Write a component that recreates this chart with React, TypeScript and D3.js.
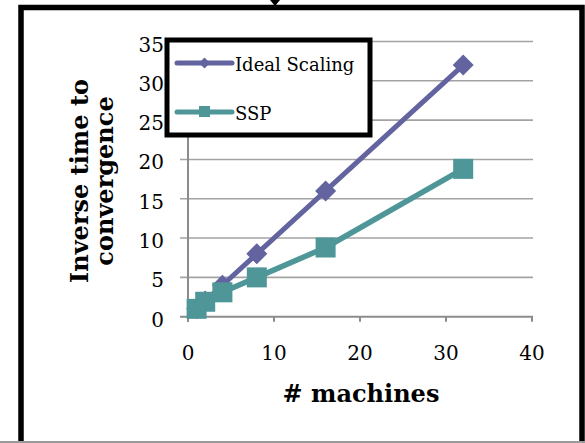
import React from "react";
import * as d3 from "d3";

const machines = [1, 2, 4, 8, 16, 32];
const idealScaling = [1, 2, 4, 8, 16, 32];
const ssp = [1, 1.9, 3.1, 5, 8.8, 18.8];
const xTicks = [0, 10, 20, 30, 40];
const yTicks = [0, 5, 10, 15, 20, 25, 30, 35];
const seriesNames = ["Ideal Scaling", "SSP"];
const xTitle = "# machines";
const yTitleLines = ["Inverse time to", "convergence"];

const W = 585;
const H = 443;
const IDEAL_COLOR = "#63649F";
const SSP_COLOR = "#4F9699";
const GRID = "#A3A3A3";
const AXIS = "#8C8C8C";
const TICK_FONT = "'DejaVu Serif', serif";
const TITLE_FONT = "'DejaVu Serif', serif";

export default function App() {
  const x = d3.scaleLinear().domain([0, 40]).range([188, 532]);
  const y = d3.scaleLinear().domain([0, 35]).range([316.7, 41.5]);

  const line = d3
    .line<[number, number]>()
    .x((d) => x(d[0]))
    .y((d) => y(d[1]));

  const idealPts = machines.map((m, i) => [m, idealScaling[i]] as [number, number]);
  const sspPts = machines.map((m, i) => [m, ssp[i]] as [number, number]);

  const diamond = (cx: number, cy: number, r: number) =>
    `M${cx},${cy - r}L${cx + r},${cy}L${cx},${cy + r}L${cx - r},${cy}Z`;

  return (
    <svg
      width={W}
      height={H}
      style={{ position: "absolute", left: 0, top: 0, background: "#fff" }}
    >
      <rect x={0} y={0} width={W} height={H} fill="#fff" />
      {/* outer frame */}
      <path d={`M21,${H}L21,7.5L582,7.5L582,${H}`} fill="none" stroke="#000" strokeWidth={5.5} />
      <line x1={0} x2={W} y1={442} y2={442} stroke="#9a9a9a" strokeWidth={2} />
      <path d="M270,0L280,0L275,6Z" fill="#000" />

      {/* gridlines */}
      {yTicks.map((t) => (
        <line key={"g" + t} x1={180} x2={533} y1={y(t)} y2={y(t)} stroke={t === 0 ? AXIS : GRID} strokeWidth={t === 0 ? 2 : 1.6} />
      ))}
      {/* y axis line */}
      <line x1={x(0)} x2={x(0)} y1={y(35)} y2={y(0) + 5} stroke={AXIS} strokeWidth={2} />
      {/* x tick marks */}
      {xTicks.map((t) => (
        <line key={"xt" + t} x1={x(t)} x2={x(t)} y1={y(0)} y2={y(0) + 5} stroke={AXIS} strokeWidth={2} />
      ))}
      {/* y tick labels */}
      {yTicks.map((t) => (
        <text key={"yl" + t} x={164} y={y(t) + 10} textAnchor="end" fontFamily={TICK_FONT} fontSize={20} fill="#000">
          {t}
        </text>
      ))}
      {/* x tick labels */}
      {xTicks.map((t) => (
        <text key={"xl" + t} x={x(t)} y={360} textAnchor="middle" fontFamily={TICK_FONT} fontSize={20} fill="#000">
          {t}
        </text>
      ))}

      {/* series */}
      <path d={line(idealPts) || ""} fill="none" stroke={IDEAL_COLOR} strokeWidth={5} strokeLinejoin="round" />
      {idealPts.map((p, i) => (
        <path key={"id" + i} d={diamond(x(p[0]), y(p[1]), 10.5)} fill={IDEAL_COLOR} />
      ))}
      <path d={line(sspPts) || ""} fill="none" stroke={SSP_COLOR} strokeWidth={5.5} strokeLinejoin="round" />
      {sspPts.map((p, i) => (
        <rect key={"sp" + i} x={x(p[0]) - 10} y={y(p[1]) - 10} width={20} height={20} fill={SSP_COLOR} />
      ))}

      {/* axis titles */}
      <text x={361} y={402} textAnchor="middle" fontFamily={TITLE_FONT} fontWeight="bold" fontSize={24} fill="#000">
        {xTitle}
      </text>
      {yTitleLines.map((s, i) => (
        <text
          key={"yt" + i}
          transform={`translate(${88 + i * 25},181) rotate(-90)`}
          textAnchor="middle"
          fontFamily={TITLE_FONT}
          fontWeight="bold"
          fontSize={24}
          fill="#000"
        >
          {s}
        </text>
      ))}

      {/* legend */}
      <rect x={167} y={40} width={203} height={95} fill="#fff" stroke="#000" strokeWidth={5} />
      <line x1={177} x2={232} y1={63} y2={63} stroke={IDEAL_COLOR} strokeWidth={5} strokeLinecap="round" />
      <path d={diamond(204.5, 63, 5.5)} fill={IDEAL_COLOR} />
      <text x={235} y={71} fontFamily={TICK_FONT} fontSize={18} fill="#000">
        {seriesNames[0]}
      </text>
      <line x1={177} x2={232} y1={112} y2={112} stroke={SSP_COLOR} strokeWidth={5} strokeLinecap="round" />
      <rect x={199} y={106} width={11} height={11} fill={SSP_COLOR} />
      <text x={235} y={120} fontFamily={TICK_FONT} fontSize={18} fill="#000">
        {seriesNames[1]}
      </text>
    </svg>
  );
}
